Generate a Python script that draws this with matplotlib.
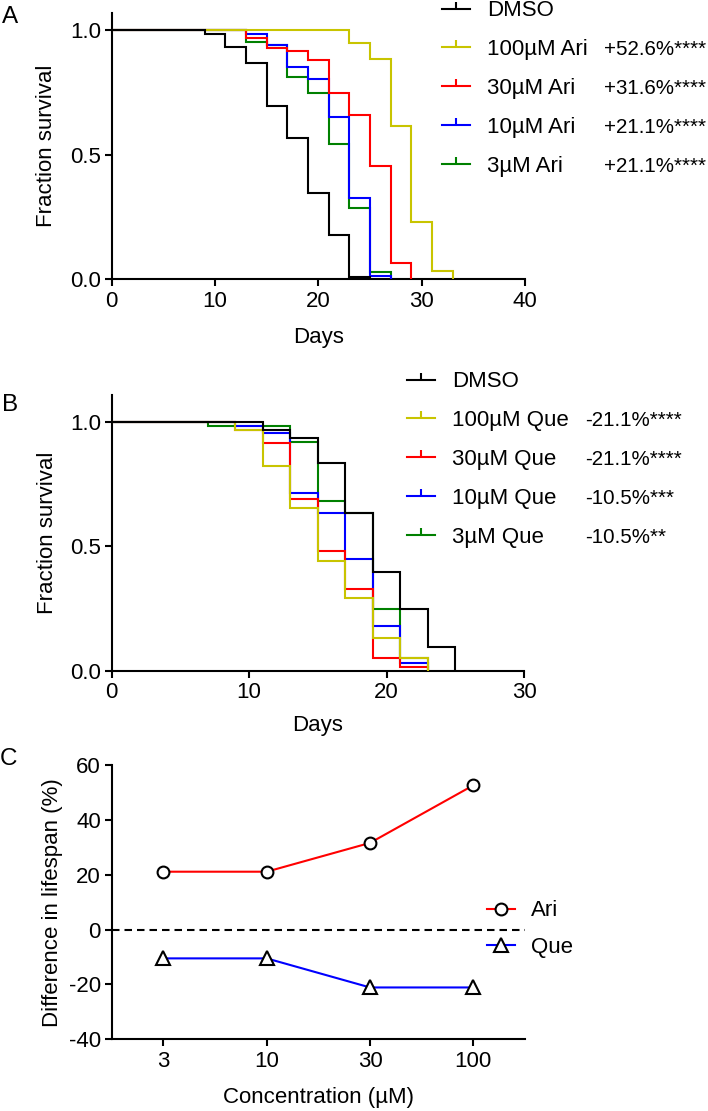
import matplotlib
matplotlib.use("Agg")
import matplotlib.pyplot as plt
from matplotlib.lines import Line2D

plt.rcParams['font.family'] = ['Liberation Sans', 'DejaVu Sans']
plt.rcParams['axes.unicode_minus'] = False
FS = 16
FS_PCT = 14.8

# ---------------- data ----------------
# Panel A (Ari) Kaplan-Meier steps: day of drop, survival after drop
a_labels = ["DMSO", "100\u00b5M Ari", "30\u00b5M Ari", "10\u00b5M Ari", "3\u00b5M Ari"]
a_pct = ["", "+52.6%****", "+31.6%****", "+21.1%****", "+21.1%****"]
a_days = [
    [0, 9, 11, 13, 15, 17, 19, 21, 23, 25],
    [0, 23, 25, 27, 29, 31, 33],
    [0, 13, 15, 17, 19, 21, 23, 25, 27, 29],
    [0, 13, 15, 17, 19, 21, 23, 25, 27],
    [0, 13, 15, 17, 19, 21, 23, 25, 27],
]
a_surv = [
    [1.0, 0.984, 0.933, 0.866, 0.697, 0.566, 0.345, 0.178, 0.011, 0.0],
    [1.0, 0.949, 0.882, 0.615, 0.231, 0.035, 0.0],
    [1.0, 0.967, 0.929, 0.916, 0.880, 0.746, 0.659, 0.456, 0.067, 0.0],
    [1.0, 0.984, 0.940, 0.853, 0.802, 0.650, 0.325, 0.013, 0.0],
    [1.0, 0.953, 0.940, 0.813, 0.746, 0.543, 0.285, 0.031, 0.0],
]

# Panel B (Que)
b_labels = ["DMSO", "100\u00b5M Que", "30\u00b5M Que", "10\u00b5M Que", "3\u00b5M Que"]
b_pct = ["", "-21.1%****", "-21.1%****", "-10.5%***", "-10.5%**"]
b_days = [
    [0, 11, 13, 15, 17, 19, 21, 23, 25],
    [0, 9, 11, 13, 15, 17, 19, 21, 23],
    [0, 9, 11, 13, 15, 17, 19, 21, 23],
    [0, 9, 11, 13, 15, 17, 19, 21, 23],
    [0, 7, 13, 15, 17, 19, 21, 23],
]
b_surv = [
    [1.0, 0.967, 0.936, 0.834, 0.632, 0.398, 0.246, 0.096, 0.0],
    [1.0, 0.967, 0.822, 0.655, 0.441, 0.293, 0.130, 0.050, 0.0],
    [1.0, 0.965, 0.915, 0.690, 0.480, 0.327, 0.050, 0.016, 0.0],
    [1.0, 0.983, 0.953, 0.714, 0.632, 0.448, 0.180, 0.030, 0.0],
    [1.0, 0.983, 0.917, 0.683, 0.632, 0.246, 0.050, 0.0],
]

# Panel C
conc = ["3", "10", "30", "100"]
ari_diff = [21.1, 21.1, 31.6, 52.6]
que_diff = [-10.5, -10.5, -21.1, -21.1]

colors = ["black", "#c8c400", "#ff0000", "#0000ff", "#008000"]

# ---------------- figure ----------------
W, H = 708, 1111
fig = plt.figure(figsize=(W / 100, H / 100), dpi=100)

def fx(px):
    return px / W

def fy(py):
    return 1 - py / H

LW = 1.5

def style_axes(ax):
    for s in ["top", "right"]:
        ax.spines[s].set_visible(False)
    for s in ["left", "bottom"]:
        ax.spines[s].set_linewidth(LW)
    ax.tick_params(direction="out", length=5.3, width=LW, labelsize=FS, pad=2.5)
    ax.tick_params(axis="x", pad=3)

def km_panel(ax_rect, days, surv, labels, pct, xmax, xticks, ytop,
             leg_left_px, leg_mid_px, pct_x_px, label_y_px, ylab_x_px):
    ax = fig.add_axes(ax_rect)
    style_axes(ax)
    # draw in reverse so DMSO lies on top
    for i in range(len(days) - 1, -1, -1):
        ax.step(days[i], surv[i], where="post", color=colors[i], lw=LW,
                zorder=2 + (len(days) - i), solid_joinstyle="miter")
    ax.set_xlim(0, xmax)
    ax.set_ylim(0, ytop)
    ax.set_xticks(xticks)
    ax.set_yticks([0, 0.5, 1.0])
    ax.set_yticklabels(["0.0", "0.5", "1.0"])
    for sp in ["left", "bottom"]:
        ax.spines[sp].set_clip_on(False)
    ax.set_xlabel("Days", fontsize=FS)
    ax.set_ylabel("Fraction survival", fontsize=FS)
    bb = ax.get_position()
    ax.xaxis.set_label_coords(0.5, (fy(label_y_px) - bb.y0) / bb.height)
    ax.yaxis.set_label_coords((fx(ylab_x_px) - bb.x0) / bb.width, 0.5)
    ax.xaxis.label.set_va("center")
    ax.yaxis.label.set_va("center")

    handles = [Line2D([], [], color=c, lw=LW, marker=2, markersize=5,
                      markeredgewidth=LW) for c in colors]
    leg = fig.legend(handles, labels, loc="center left",
                     bbox_to_anchor=(fx(leg_left_px), fy(leg_mid_px)),
                     bbox_transform=fig.transFigure, frameon=False,
                     fontsize=FS, handlelength=1.27, handletextpad=0.77,
                     labelspacing=0.8, borderpad=0, borderaxespad=0,
                     numpoints=1)
    return ax, leg, pct, pct_x_px

axA, legA, pctA, pxA = km_panel([fx(111.7), fy(279.3), fx(525) - fx(111.7), fy(13.3) - fy(279.3)],
                                a_days, a_surv, a_labels, a_pct, 40, [0, 10, 20, 30, 40], 1.067,
                                441.7, 88.5, 604, 337, 46.7)
axB, legB, pctB, pxB = km_panel([fx(111.7), fy(670.7), fx(524) - fx(111.7), fy(395) - fy(670.7)],
                                b_days, b_surv, b_labels, b_pct, 30, [0, 10, 20, 30], 1.107,
                                406.7, 459.5, 585, 726, 47.5)

# ---------------- panel C ----------------
axC = fig.add_axes([fx(111.7), fy(1039.3), fx(525) - fx(111.7), fy(765) - fy(1039.3)])
style_axes(axC)
xpos = list(range(len(conc)))
axC.axhline(0, color="black", lw=LW, ls=(0, (3.6, 2.4)), zorder=1)
lA, = axC.plot(xpos, ari_diff, color="#ff0000", lw=LW, marker="o", markersize=8.5,
               mfc="white", mec="black", mew=LW, label="Ari", zorder=3, clip_on=False)
lQ, = axC.plot(xpos, que_diff, color="#0000ff", lw=LW, marker="^", markersize=9.5,
               mfc="white", mec="black", mew=LW, label="Que", zorder=3, clip_on=False)
axC.set_xlim(-0.5, 3.5)
axC.set_ylim(-40, 60)
axC.set_xticks(xpos)
axC.set_xticklabels(conc)
axC.set_yticks([-40, -20, 0, 20, 40, 60])
axC.set_xlabel("Concentration (\u00b5M)", fontsize=FS)
axC.set_ylabel("Difference in lifespan (%)", fontsize=FS)
bbC = axC.get_position()
axC.xaxis.set_label_coords(0.5, (fy(1097) - bbC.y0) / bbC.height)
axC.yaxis.set_label_coords((fx(52.5) - bbC.x0) / bbC.width, 0.5)
axC.xaxis.label.set_va("center")
axC.yaxis.label.set_va("center")
for sp in ["left", "bottom"]:
    axC.spines[sp].set_clip_on(False)
legC = fig.legend([lA, lQ], ["Ari", "Que"], loc="center left",
                  bbox_to_anchor=(fx(486.7), fy(929)), bbox_transform=fig.transFigure,
                  frameon=False, fontsize=FS, handlelength=1.27, handletextpad=0.72,
                  labelspacing=0.69, borderpad=0, borderaxespad=0, numpoints=1)

# panel letters
fig.text(fx(2), fy(6), "A", fontsize=17.5, va="top", ha="left")
fig.text(fx(2), fy(394), "B", fontsize=17.5, va="top", ha="left")
fig.text(fx(0), fy(748), "C", fontsize=17.5, va="top", ha="left")

# percentage annotations aligned to legend rows
fig.canvas.draw()
renderer = fig.canvas.get_renderer()
inv = fig.transFigure.inverted()
for leg, pct, px in [(legA, pctA, pxA), (legB, pctB, pxB)]:
    for t, s in zip(leg.get_texts(), pct):
        if not s:
            continue
        bb = t.get_window_extent(renderer)
        yc = (bb.y0 + bb.y1) / 2
        _, yf = inv.transform((0, yc))
        fig.text(fx(px), yf, s, fontsize=FS_PCT, va="center", ha="left")

fig.savefig("out.png", dpi=100)
